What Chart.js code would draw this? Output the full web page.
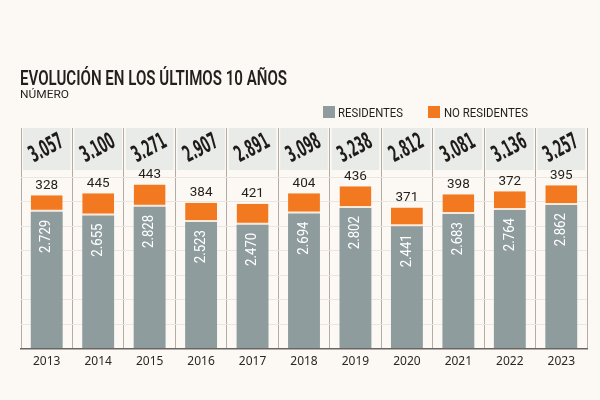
<!DOCTYPE html>
<html>
<head>
<meta charset="utf-8">
<script src="https://cdn.jsdelivr.net/npm/chart.js@4"></script>
<style>
  html, body { margin: 0; padding: 0; background: #fcf8f4; }
  #wrap { position: relative; width: 600px; height: 400px; }
  #chart { position: absolute; left: 0; top: 0; }
  .fit { position: absolute; white-space: nowrap; transform-origin: 0 0; color: #231f1c; }
  .title { left: 20px; top: 66px; font: 600 20px Roboto, sans-serif; }
  .sub { left: 20px; top: 88px; font: 11px Roboto, sans-serif; }
  .legend { top: 105px; font: 12.5px Roboto, sans-serif; }
  .box { position: absolute; top: 106px; width: 12px; height: 12px; }
</style>
</head>
<body>
<div id="wrap">
  <canvas id="chart" width="600" height="400"></canvas>
  <div class="fit title" data-w="267">EVOLUCIÓN EN LOS ÚLTIMOS 10 AÑOS</div>
  <div class="fit sub" data-w="49">NÚMERO</div>
  <div class="box" style="left:323px;background:#8f9c9e"></div>
  <div class="fit legend" style="left:338px" data-w="65">RESIDENTES</div>
  <div class="box" style="left:428px;background:#f2791f"></div>
  <div class="fit legend" style="left:444px" data-w="84">NO RESIDENTES</div>
</div>
<script>
// datos
const years = ['2013', '2014', '2015', '2016', '2017', '2018', '2019', '2020', '2021', '2022', '2023'];
const residentes = [2729, 2655, 2828, 2523, 2470, 2694, 2802, 2441, 2683, 2764, 2862];
const noResidentes = [328, 445, 443, 384, 421, 404, 436, 371, 398, 372, 395];
const totales = [3057, 3100, 3271, 2907, 2891, 3098, 3238, 2812, 3081, 3136, 3257];

const GRIS = '#8f9c9e';
const NARANJA = '#f2791f';

// ajusta el ancho de los textos condensados
document.querySelectorAll('.fit').forEach(el => {
  const w = el.getBoundingClientRect().width;
  el.style.transform = 'scaleX(' + (Number(el.dataset.w) / w) + ')';
});

// formato 2.729
function fmt(n) {
  const s = String(n);
  return s.length > 3 ? s.slice(0, -3) + '.' + s.slice(-3) : s;
}

// franja de totales arriba
const franja = {
  id: 'franja',
  beforeDraw(chart) {
    const { ctx, chartArea } = chart;
    const w = (chartArea.right - chartArea.left) / years.length;
    ctx.save();
    ctx.fillStyle = '#e8ebe8';
    years.forEach((y, i) => {
      const left = chartArea.left + i * w;
      ctx.fillRect(left + 2, chartArea.top, w - 4, 42);
    });
    ctx.restore();
  }
};

// etiquetas de valores
const etiquetas = {
  id: 'etiquetas',
  afterDatasetsDraw(chart) {
    const ctx = chart.ctx;
    const m0 = chart.getDatasetMeta(0);
    const m1 = chart.getDatasetMeta(1);
    const top = chart.chartArea.top;
    ctx.save();
    years.forEach((y, i) => {
      const b0 = m0.data[i];
      const b1 = m1.data[i];
      // residentes, blanco y vertical
      ctx.save();
      ctx.translate(b0.x, b0.y + 8);
      ctx.rotate(-Math.PI / 2);
      ctx.scale(0.88, 1);
      ctx.fillStyle = '#ffffff';
      ctx.font = '15px Roboto, sans-serif';
      ctx.textAlign = 'right';
      ctx.textBaseline = 'middle';
      ctx.fillText(fmt(residentes[i]), 0, 0);
      ctx.restore();
      // no residentes encima
      ctx.fillStyle = '#231f1c';
      ctx.font = '13.5px Roboto, sans-serif';
      ctx.textAlign = 'center';
      ctx.textBaseline = 'bottom';
      ctx.fillText(String(noResidentes[i]), b1.x, b1.y - 3);
      // total inclinado
      ctx.save();
      ctx.translate(b1.x, top + 21);
      ctx.rotate(-28 * Math.PI / 180);
      ctx.scale(0.66, 1.2);
      ctx.font = 'bold 19px "DejaVu Sans Condensed", sans-serif';
      ctx.textAlign = 'center';
      ctx.textBaseline = 'middle';
      ctx.fillStyle = '#1e1b19';
      ctx.fillText(fmt(totales[i]), 0, 0);
      ctx.restore();
    });
    ctx.restore();
  }
};

new Chart(document.getElementById('chart'), {
  type: 'bar',
  data: {
    labels: years,
    datasets: [
      {
        label: 'RESIDENTES',
        data: residentes,
        backgroundColor: GRIS,
        borderWidth: 0
      },
      {
        label: 'NO RESIDENTES',
        data: noResidentes,
        backgroundColor: NARANJA,
        borderColor: '#fbe9da',
        borderWidth: { top: 0, left: 0, right: 0, bottom: 2 },
        borderSkipped: false
      }
    ]
  },
  options: {
    responsive: false,
    animation: false,
    layout: { padding: { top: 128, left: 21, right: 13, bottom: 25 } },
    datasets: { bar: { categoryPercentage: 1, barPercentage: 0.62 } },
    plugins: {
      legend: { display: false },
      title: { display: false },
      tooltip: { enabled: false }
    },
    scales: {
      x: {
        stacked: true,
        grid: { offset: true, color: '#b5aca4', lineWidth: 1, drawTicks: false },
        border: { display: true, color: '#6b6663', width: 1.5 },
        ticks: { color: '#2b2724', padding: 6, font: { family: 'Noto Sans', size: 12 } }
      },
      y: {
        stacked: true,
        min: 0,
        max: 4400,
        ticks: { display: false, stepSize: 500 },
        border: { display: false },
        grid: {
          drawTicks: false,
          color: c => (c.tick && c.tick.value > 3600 ? 'rgba(0,0,0,0)' : '#ece6e0')
        }
      }
    }
  },
  plugins: [franja, etiquetas]
});
</script>
</body>
</html>
